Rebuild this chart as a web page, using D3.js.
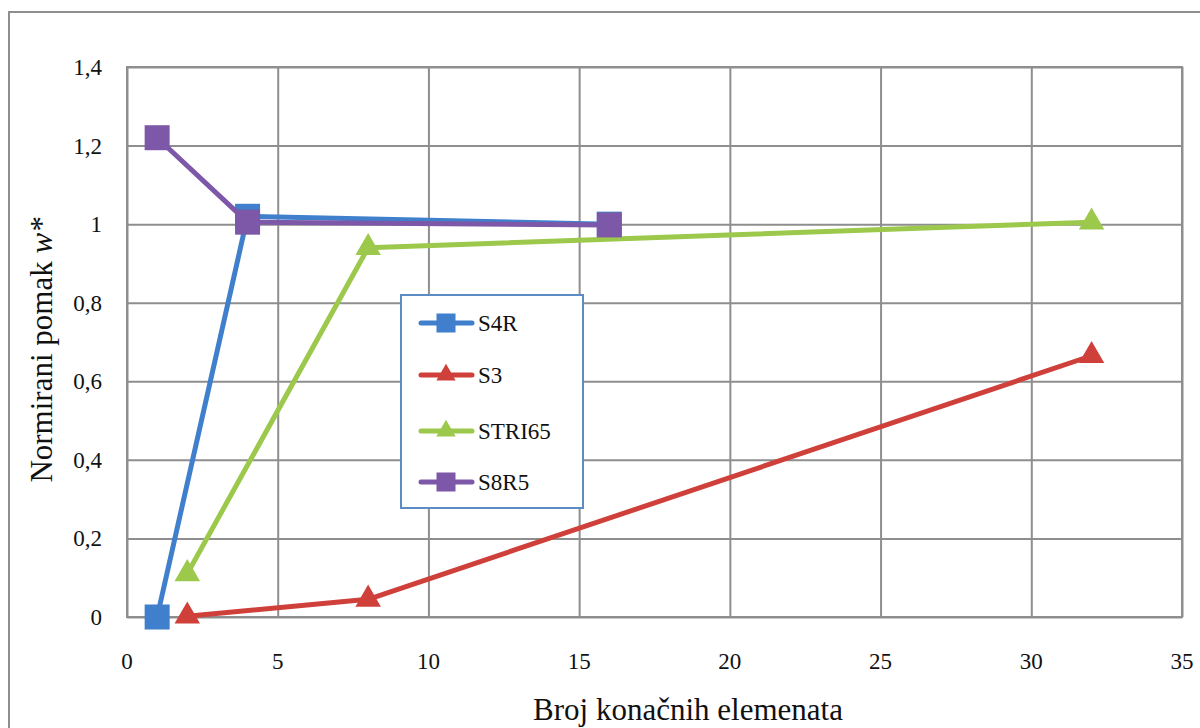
<!DOCTYPE html>
<html>
<head>
<meta charset="utf-8">
<script src="https://cdn.jsdelivr.net/npm/d3@7"></script>
<style>
  body { margin: 0; background: #fff; }
</style>
</head>
<body>
<svg id="chart" width="1200" height="728"></svg>
<script>
// data
const SERIES_NAMES = ['S4R', 'S3', 'STRI65', 'S8R5'];
const S4R_X = [1, 4, 16];
const S4R_Y = [0, 1.02, 1.0];
const S3_X = [2, 8, 32];
const S3_Y = [0.002, 0.045, 0.665];
const STRI65_X = [2, 8, 32];
const STRI65_Y = [0.11, 0.94, 1.005];
const S8R5_X = [1, 4, 16];
const S8R5_Y = [1.22, 1.005, 0.998];
const X_TICKS = [0, 5, 10, 15, 20, 25, 30, 35];
const Y_TICKS = [0, 0.2, 0.4, 0.6, 0.8, 1, 1.2, 1.4];

const SERIES = [
    {name: SERIES_NAMES[0], xs: S4R_X, ys: S4R_Y, color: '#3f7fcc', marker: 'square'},
    {name: SERIES_NAMES[1], xs: S3_X, ys: S3_Y, color: '#d0403b', marker: 'triangle'},
    {name: SERIES_NAMES[2], xs: STRI65_X, ys: STRI65_Y, color: '#9cc84b', marker: 'triangle'},
    {name: SERIES_NAMES[3], xs: S8R5_X, ys: S8R5_Y, color: '#7e58a8', marker: 'square'}
];

const FONT = '"Liberation Serif", "Times New Roman", serif';
const SVG = d3.select('#chart').attr('font-family', FONT);
const LEFT = 127, RIGHT = 1182, TOP = 67, BOTTOM = 617;
const GRID = '#8e8e8e';

const x = d3.scaleLinear().domain([0, 35]).range([LEFT, RIGHT]);
const y = d3.scaleLinear().domain([0, 1.4]).range([BOTTOM, TOP]);

// outer chart border (runs off the right/bottom edge)
SVG.append('rect')
    .attr('x', 9).attr('y', 12)
    .attr('width', 1200).attr('height', 740)
    .attr('fill', 'none')
    .attr('stroke', GRID)
    .attr('stroke-width', 2);

// gridlines
SVG.append('g')
    .attr('transform', `translate(0,${BOTTOM})`)
    .call(d3.axisBottom(x).tickValues(X_TICKS).tickSize(-(BOTTOM - TOP)).tickFormat(''))
    .call(g => g.select('.domain').remove())
    .call(g => g.selectAll('line').attr('stroke', GRID).attr('stroke-width', 2));

SVG.append('g')
    .attr('transform', `translate(${LEFT},0)`)
    .call(d3.axisLeft(y).tickValues(Y_TICKS).tickSize(-(RIGHT - LEFT)).tickFormat(''))
    .call(g => g.select('.domain').remove())
    .call(g => g.selectAll('line').attr('stroke', GRID).attr('stroke-width', 2));

SVG.append('rect')
    .attr('x', LEFT).attr('y', TOP)
    .attr('width', RIGHT - LEFT).attr('height', BOTTOM - TOP)
    .attr('fill', 'none').attr('stroke', GRID).attr('stroke-width', 2);

// tick labels
SVG.selectAll('.x-label')
    .data(X_TICKS)
    .enter()
    .append('text')
    .attr('class', 'x-label')
    .attr('x', d => x(d))
    .attr('y', 669)
    .attr('text-anchor', 'middle')
    .attr('font-family', FONT)
    .attr('font-size', 23)
    .attr('fill', '#111')
    .text(d => d);

SVG.selectAll('.y-label')
    .data(Y_TICKS)
    .enter()
    .append('text')
    .attr('class', 'y-label')
    .attr('x', 102)
    .attr('y', d => y(d) + 8)
    .attr('text-anchor', 'end')
    .attr('font-family', FONT)
    .attr('font-size', 23)
    .attr('fill', '#111')
    .text(d => d3.format('.1~f')(d).replace('.', ','));

// axis titles
SVG.append('text')
    .attr('x', 688).attr('y', 720)
    .attr('text-anchor', 'middle')
    .attr('font-family', FONT)
    .attr('font-size', 31)
    .attr('fill', '#111')
    .text('Broj konačnih elemenata');

const yTitle = SVG.append('text')
    .attr('transform', 'translate(52,350) rotate(-90)')
    .attr('text-anchor', 'middle')
    .attr('font-family', FONT)
    .attr('font-size', 31)
    .attr('fill', '#111');
yTitle.append('tspan').text('Normirani pomak ');
yTitle.append('tspan').attr('font-style', 'italic').text('w*');

// lines + markers
const line = d3.line().x(d => x(d[0])).y(d => y(d[1]));

function drawMarker(g, mk, color, px, py, s) {
    if (mk === 'square') {
        g.append('rect')
            .attr('x', px - s / 2).attr('y', py - s / 2)
            .attr('width', s).attr('height', s)
            .attr('fill', color);
    } else {
        g.append('path')
            .attr('d', d3.symbol().type(d3.symbolTriangle).size(s * s * 0.45)())
            .attr('transform', `translate(${px},${py})`)
            .attr('fill', color);
    }
}

SERIES.forEach(s => {
    const pts = s.xs.map((v, i) => [v, s.ys[i]]);
    const g = SVG.append('g');
    g.append('path')
        .datum(pts)
        .attr('d', line)
        .attr('fill', 'none')
        .attr('stroke', s.color)
        .attr('stroke-width', 5)
        .attr('stroke-linejoin', 'round');
    pts.forEach(p => drawMarker(g, s.marker, s.color, x(p[0]), y(p[1]), 25));
});

// legend
const LEG = SVG.append('g');
LEG.append('rect')
    .attr('x', 401).attr('y', 295)
    .attr('width', 182).attr('height', 213)
    .attr('fill', '#fff')
    .attr('stroke', '#5b8cc4')
    .attr('stroke-width', 2);

const LEG_Y = [323, 375, 431, 482];
SERIES.forEach((s, i) => {
    const ly = LEG_Y[i];
    LEG.append('line')
        .attr('x1', 421).attr('x2', 472)
        .attr('y1', ly).attr('y2', ly)
        .attr('stroke', s.color)
        .attr('stroke-width', 5)
        .attr('stroke-linecap', 'round');
    drawMarker(LEG, s.marker, s.color, 446, ly, 19);
    LEG.append('text')
        .attr('x', 478).attr('y', ly + 8)
        .attr('font-family', FONT)
        .attr('font-size', 23)
        .attr('fill', '#111')
        .text(s.name);
});
</script>
</body>
</html>
